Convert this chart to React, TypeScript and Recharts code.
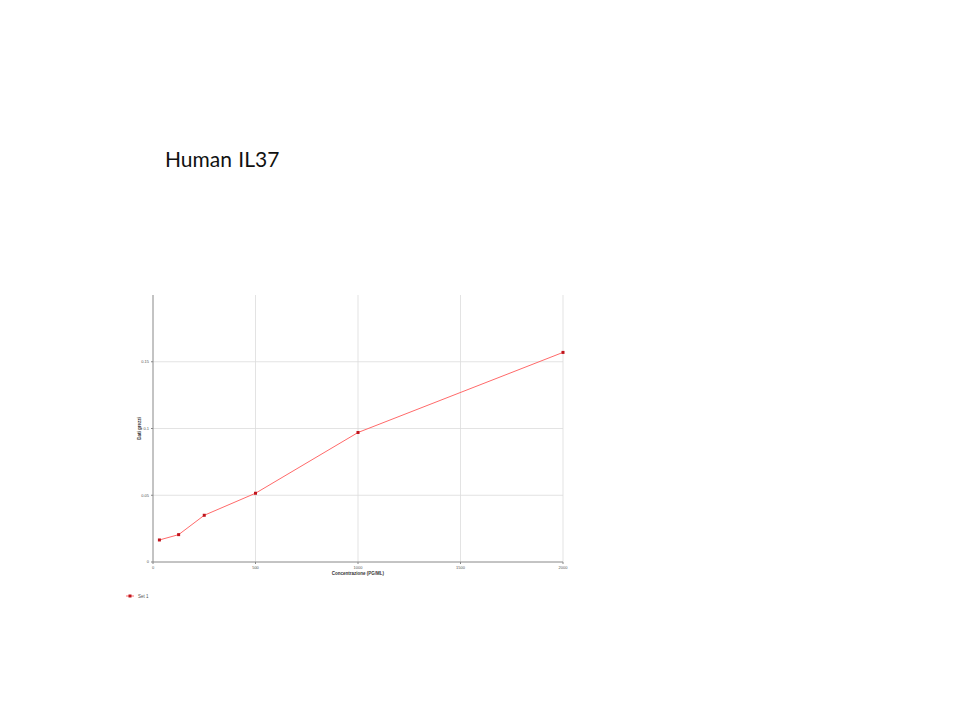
import React from "react";
import { LineChart, Line, XAxis, YAxis, CartesianGrid, Label } from "recharts";

const concentrations = [31.25, 125, 250, 500, 1000, 2000];
const rawValues = [0.0165, 0.0205, 0.035, 0.0515, 0.097, 0.157];
const xTicks = [0, 500, 1000, 1500, 2000];
const yTicks = [0, 0.05, 0.1, 0.15];

const data = concentrations.map((c, i) => ({ conc: c, value: rawValues[i] }));

const tickStyle = { fontSize: 4, fill: "#555", fontFamily: "Liberation Sans, sans-serif" };

const SquareDot = (props: any) => {
  const { cx, cy } = props;
  if (cx == null || cy == null) return null;
  return <rect x={cx - 1.5} y={cy - 1.5} width={3} height={3} fill="#c0141c" />;
};

export default function App() {
  return (
    <div style={{ position: "absolute", left: 0, top: 0, width: 960, height: 720, background: "#fff" }}>
      <div
        style={{
          position: "absolute",
          left: 165,
          top: 146,
          fontFamily: "Lato, sans-serif",
          fontSize: 21,
          color: "#111",
          whiteSpace: "nowrap",
          wordSpacing: 1,
        }}
      >
        Human IL37
      </div>
      <LineChart
        width={960}
        height={720}
        data={data}
        margin={{ top: 295, right: 397, left: 133, bottom: 148 }}
      >
        <CartesianGrid stroke="#dcdcdc" strokeWidth={0.8} horizontalValues={[0.05, 0.1, 0.15]} verticalValues={[500, 1000, 1500, 2000]} />
        <XAxis
          dataKey="conc"
          type="number"
          domain={[0, 2000]}
          ticks={xTicks}
          height={10}
          tick={tickStyle}
          tickSize={2}
          tickLine={{ stroke: "#888" }}
          axisLine={{ stroke: "#888" }}
        >
          <Label
            value="Concentrazione (PG/ML)"
            position="insideBottom"
            offset={-3}
            style={{ fontSize: 4.5, fontWeight: 700, fill: "#333", fontFamily: "Liberation Sans, sans-serif" }}
          />
        </XAxis>
        <YAxis
          type="number"
          domain={[0, 0.2]}
          ticks={yTicks}
          width={20}
          tick={tickStyle}
          tickSize={2}
          tickLine={{ stroke: "#888" }}
          axisLine={{ stroke: "#888" }}
        >
          <Label
            value="Dati grezzi"
            angle={-90}
            position="insideLeft"
            offset={6}
            style={{ fontSize: 4.5, fontWeight: 700, fill: "#333", fontFamily: "Liberation Sans, sans-serif", textAnchor: "middle" }}
          />
        </YAxis>
        <Line
          type="linear"
          dataKey="value"
          stroke="#ff6a6a"
          strokeWidth={1}
          dot={<SquareDot />}
          activeDot={false}
          isAnimationActive={false}
        />
      </LineChart>
      <div
        style={{
          position: "absolute",
          left: 126,
          top: 593,
          display: "flex",
          alignItems: "center",
          fontFamily: "Liberation Sans, sans-serif",
          fontSize: 4.5,
          color: "#555",
        }}
      >
        <svg width={8} height={6}>
          <line x1={0} y1={3} x2={8} y2={3} stroke="#ff6a6a" strokeWidth={1} />
          <rect x={2.5} y={1.5} width={3} height={3} fill="#c0141c" />
        </svg>
        <span style={{ marginLeft: 4 }}>Set 1</span>
      </div>
    </div>
  );
}
